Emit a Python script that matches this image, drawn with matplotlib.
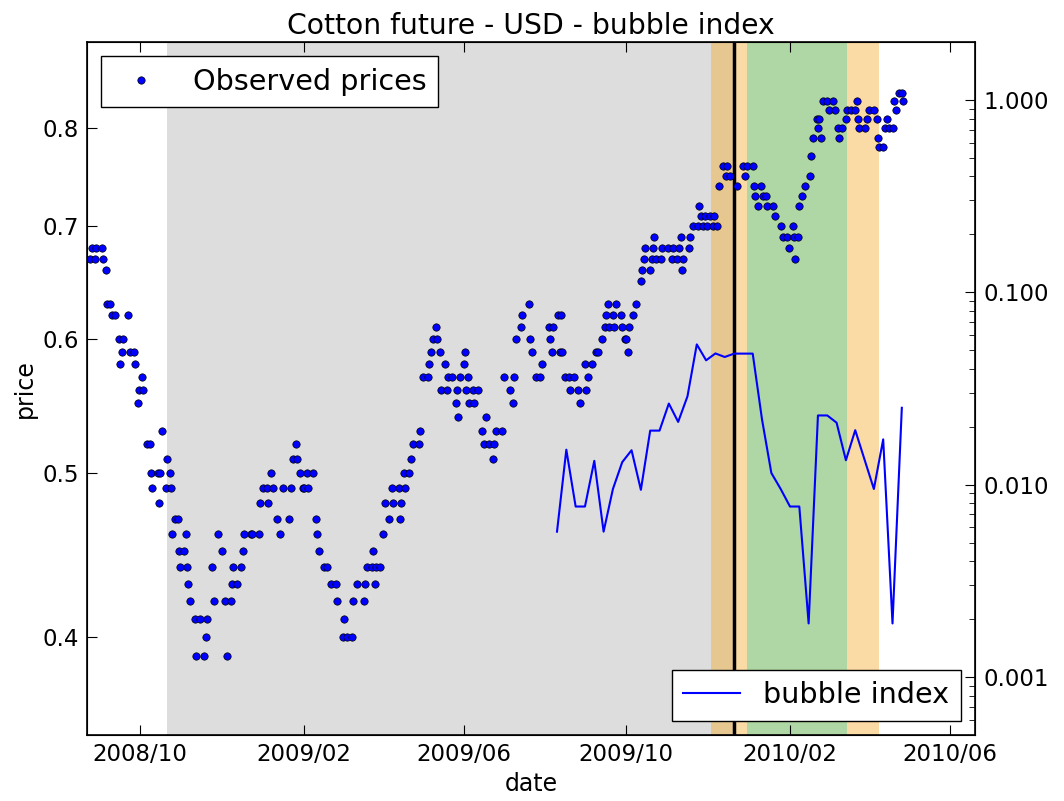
import numpy as np
import matplotlib
matplotlib.use("Agg")
import matplotlib.pyplot as plt
import matplotlib.dates as mdates
from matplotlib.ticker import FixedLocator, FormatStrFormatter, NullLocator, NullFormatter, LogLocator

# observed prices: day offset from 2008-10-01 and price in cents
start = np.datetime64("2008-10-01")
price_day = [
    -38, -36, -34, -33, -29, -28, -26, -25, -23, -21, -19, -16, -15, -14, -13, -9, -8, -5, -4, -2,
    -1, 1, 2, 5, 7, 8, 9, 13, 14, 15, 16, 19, 20, 22, 23, 24, 26, 28, 29, 30,
    33, 34, 35, 36, 37, 41, 42, 45, 48, 49, 50, 54, 55, 58, 61, 64, 65, 68, 69, 70,
    73, 76, 77, 78, 83, 84, 89, 90, 92, 95, 96, 98, 100, 103, 105, 107, 112, 113, 115, 117,
    118, 120, 122, 123, 125, 126, 130, 132, 133, 134, 138, 140, 143, 147, 148, 152, 153, 155, 159, 160,
    163, 168, 169, 170, 174, 175, 176, 177, 180, 182, 184, 187, 189, 190, 194, 195, 196, 198, 199, 202,
    203, 205, 209, 210, 212, 216, 217, 218, 220, 222, 223, 225, 226, 229, 230, 231, 234, 237, 238, 239,
    240, 243, 244, 245, 246, 247, 250, 251, 254, 257, 258, 260, 262, 265, 266, 267, 272, 273, 278, 280,
    281, 282, 286, 287, 292, 293, 294, 297, 300, 302, 307, 308, 309, 310, 314, 315, 316, 317, 319, 322,
    323, 326, 329, 330, 334, 335, 336, 339, 342, 344, 347, 349, 350, 351, 352, 355, 356, 357, 361, 362,
    364, 365, 366, 367, 370, 372, 376, 377, 378, 379, 383, 384, 385, 386, 387, 391, 392, 396, 399, 400,
    403, 405, 406, 407, 408, 412, 413, 415, 419, 420, 421, 423, 424, 426, 428, 430, 431, 433, 435, 438,
    440, 441, 443, 448, 453, 454, 456, 460, 461, 462, 464, 466, 468, 470, 471, 475, 477, 481, 483, 486,
    487, 490, 491, 492, 494, 495, 497, 499, 503, 504, 505, 508, 509, 510, 511, 513, 516, 517, 520, 522,
    524, 525, 527, 530, 531, 534, 537, 538, 539, 540, 544, 546, 547, 551, 553, 554, 555, 558, 559, 561,
    562, 565, 566, 568, 570, 572, 573,
]
price_cents = [
    67, 68, 67, 68, 68, 67, 66, 63, 63, 62, 62, 60, 58, 59, 60, 62, 59, 59, 58, 55,
    56, 57, 56, 52, 52, 50, 49, 50, 48, 50, 53, 49, 51, 50, 49, 46, 47, 47, 45, 44,
    45, 46, 44, 43, 42, 41, 39, 41, 39, 40, 41, 44, 42, 46, 45, 42, 39, 42, 43, 44,
    43, 44, 45, 46, 46, 46, 46, 48, 49, 49, 48, 50, 49, 47, 46, 49, 47, 49, 51, 52,
    51, 50, 49, 49, 50, 49, 50, 47, 46, 45, 44, 44, 43, 43, 42, 40, 41, 40, 40, 42,
    43, 42, 43, 44, 44, 45, 43, 44, 44, 46, 48, 47, 49, 48, 49, 47, 48, 50, 49, 50,
    51, 52, 52, 53, 57, 57, 58, 59, 60, 61, 60, 59, 56, 58, 56, 57, 57, 55, 56, 54,
    57, 58, 59, 56, 57, 55, 56, 55, 56, 53, 52, 54, 52, 51, 52, 53, 53, 57, 56, 55,
    57, 60, 61, 62, 63, 60, 59, 57, 57, 58, 61, 60, 59, 61, 62, 59, 62, 59, 57, 57,
    56, 57, 56, 55, 58, 56, 57, 58, 59, 59, 60, 61, 62, 63, 61, 62, 61, 63, 62, 61,
    60, 60, 59, 61, 62, 63, 65, 66, 67, 68, 66, 67, 68, 69, 67, 67, 68, 68, 67, 68,
    67, 68, 69, 66, 67, 68, 69, 70, 70, 72, 71, 70, 71, 70, 71, 70, 71, 70, 74, 76,
    75, 76, 75, 74, 76, 75, 76, 76, 74, 73, 72, 74, 73, 73, 72, 72, 71, 70, 69, 69,
    68, 70, 69, 67, 69, 72, 73, 74, 75, 77, 79, 81, 80, 81, 79, 83, 83, 82, 83, 82,
    80, 79, 80, 81, 82, 82, 82, 83, 81, 80, 80, 81, 82, 82, 81, 79, 78, 78, 80, 81,
    80, 80, 83, 82, 84, 84, 83,
]

# weekly bubble index
bubble_start = np.datetime64("2009-08-10")
bubble_index = [
    0.0057, 0.0152, 0.0077, 0.0077, 0.0133, 0.0057, 0.0095, 0.0131, 0.0151, 0.0094,
    0.0191, 0.0191, 0.0264, 0.0212, 0.0288, 0.0536, 0.0443, 0.0481, 0.0461, 0.0480,
    0.0480, 0.0480, 0.0218, 0.0115, 0.0095, 0.0077, 0.0077, 0.0019, 0.0229, 0.0229,
    0.0210, 0.0134, 0.0192, 0.0135, 0.0095, 0.0172, 0.0019, 0.0251,
]

gray_span = ("2008-10-21", "2009-12-21")
orange_span = ("2009-12-04", "2010-04-09")
green_span = ("2009-12-31", "2010-03-16")
peak_date = "2009-12-21"
x_range = ("2008-08-22", "2010-06-20")

price_dates = start + np.array(price_day).astype("timedelta64[D]")
prices = np.array(price_cents) / 100.0
bubble_dates = bubble_start + np.arange(len(bubble_index)) * np.timedelta64(7, "D")


def dn(s):
    return mdates.date2num(np.datetime64(s))


fig = plt.figure(figsize=(10.64, 8.01), dpi=100)
ax = fig.add_axes([0.0818, 0.0824, 0.8346, 0.8652])

ax.axvspan(dn(gray_span[0]), dn(gray_span[1]), color="#dddddd", lw=0, zorder=0)
ax.axvspan(dn(orange_span[0]), dn(orange_span[1]), color="#f5a71e", alpha=0.4, lw=0, zorder=0.5)
ax.axvspan(dn(green_span[0]), dn(green_span[1]), color="#afd7a5", lw=0, zorder=0.6)
ax.axvline(dn(peak_date), color="k", lw=2.5, zorder=2)

ax.plot(price_dates, prices, "o", color="b", mec="k", mew=0.5, ms=5.3,
        label="Observed prices", zorder=3)

ax.set_yscale("log")
ax.set_ylim(0.35, 0.9)
ax.yaxis.set_major_locator(FixedLocator([0.4, 0.5, 0.6, 0.7, 0.8]))
ax.yaxis.set_major_formatter(FormatStrFormatter("%.1f"))
ax.yaxis.set_minor_locator(NullLocator())
ax.xaxis.set_major_locator(mdates.MonthLocator(bymonth=[2, 6, 10]))
ax.xaxis.set_major_formatter(mdates.DateFormatter("%Y/%m"))
ax.set_xlim(dn(x_range[0]), dn(x_range[1]))
ax.tick_params(direction="in", length=7, labelsize=16.5, top=True, pad=6)
ax.set_xlabel("date", fontsize=17)
ax.set_ylabel("price", fontsize=17)
ax.set_title("Cotton future - USD - bubble index", fontsize=20.3)
for s in ax.spines.values():
    s.set_linewidth(1.2)

ax2 = ax.twinx()
ax2.plot(bubble_dates, bubble_index, "-", color="b", lw=1.5, label="bubble index")
ax2.set_yscale("log")
ax2.set_ylim(5e-4, 2)
ax2.yaxis.set_major_locator(LogLocator(base=10))
ax2.yaxis.set_major_formatter(FormatStrFormatter("%.3f"))
ax2.yaxis.set_minor_formatter(NullFormatter())
ax2.tick_params(which="major", direction="in", length=7, labelsize=16.5, pad=6)
ax2.tick_params(which="minor", direction="in", length=4)
ax2.set_xlim(dn(x_range[0]), dn(x_range[1]))

ax.legend(loc="upper left", numpoints=1, fontsize=20.6, fancybox=False,
          edgecolor="k", framealpha=1)
ax2.legend(loc="lower right", fontsize=20.6, fancybox=False,
           edgecolor="k", framealpha=1)

fig.savefig("out.png", dpi=100)
